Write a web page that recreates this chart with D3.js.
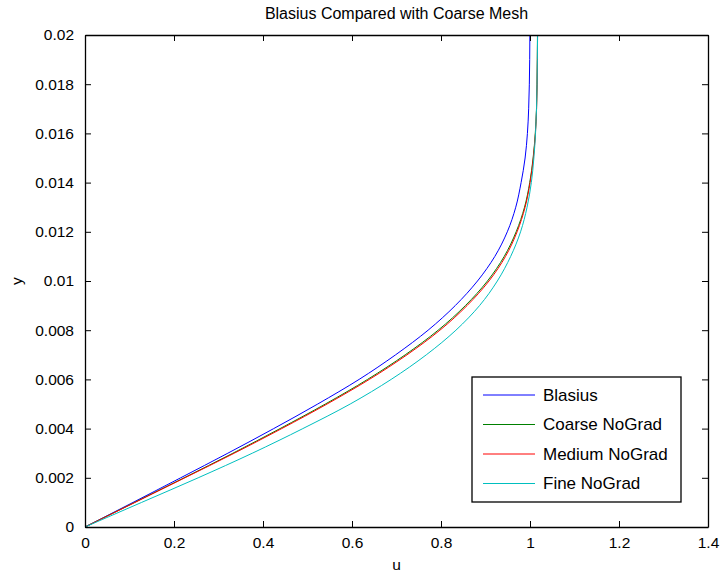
<!DOCTYPE html>
<html>
<head>
<meta charset="utf-8">
<script src="https://cdn.jsdelivr.net/npm/d3@7"></script>
<style>
  body { margin: 0; background: #fff; }
  text { font-family: "Liberation Sans", Arial, Helvetica, sans-serif; fill: #000; }
</style>
</head>
<body>
<div id="chart"></div>
<script>
const width = 722,
    height = 573;
const margin = { top: 35, right: 14, bottom: 46, left: 85 };

// wall-normal positions shared by all profiles
const yValues = [0, 0.001, 0.002, 0.003, 0.004, 0.005, 0.006, 0.007, 0.008, 0.009, 0.010,
    0.011, 0.012, 0.013, 0.014, 0.015, 0.016, 0.017, 0.018, 0.019, 0.020];

const blasiusU = [0, 0.108, 0.215, 0.321, 0.424, 0.523, 0.616, 0.698, 0.771, 0.832, 0.882,
    0.921, 0.949, 0.968, 0.980, 0.989, 0.9942, 0.9970, 0.9985, 0.9993, 0.9997];
const coarseU = [0, 0.1115, 0.2226, 0.3324, 0.4383, 0.5402, 0.6350, 0.7196, 0.7936, 0.8548, 0.9044,
    0.9421, 0.9689, 0.9877, 0.9994, 1.0070, 1.0119, 1.0146, 1.0158, 1.0164, 1.0168];
const mediumU = [0, 0.1125, 0.2245, 0.3355, 0.4420, 0.5440, 0.6390, 0.7236, 0.7976, 0.8585, 0.9078,
    0.9450, 0.9710, 0.9890, 1.0002, 1.0075, 1.0122, 1.0148, 1.0160, 1.0166, 1.0170];
const fineU = [0, 0.1273, 0.2543, 0.3760, 0.4895, 0.5960, 0.6880, 0.7670, 0.8335, 0.8866, 0.9266,
    0.9566, 0.9788, 0.9934, 1.0030, 1.0087, 1.0124, 1.0147, 1.0159, 1.0166, 1.0170];

const seriesNames = ["Blasius", "Coarse NoGrad", "Medium NoGrad", "Fine NoGrad"];
const seriesColors = ["#0000ff", "#008000", "#ff0000", "#00bfbf"];
const seriesU = [blasiusU, coarseU, mediumU, fineU];

const xTicks = [0, 0.2, 0.4, 0.6, 0.8, 1, 1.2, 1.4];
const yTicks = [0, 0.002, 0.004, 0.006, 0.008, 0.01, 0.012, 0.014, 0.016, 0.018, 0.02];

const svg = d3.select("#chart")
    .append("svg")
    .attr("width", width)
    .attr("height", height);

const x = d3.scaleLinear().domain([0, 1.4]).range([margin.left, width - margin.right]);
const y = d3.scaleLinear().domain([0, 0.02]).range([height - margin.bottom, margin.top]);

const tickFont = "15.5px",
    titleFont = "16px",
    legendFont = "17px";

// clip so the curves stop at the top of the box
svg.append("clipPath").attr("id", "plotClip")
    .append("rect")
    .attr("x", x(0)).attr("y", y(0.02))
    .attr("width", x(1.4) - x(0)).attr("height", y(0) - y(0.02));

const line = d3.line()
    .x(d => x(d[0]))
    .y(d => y(d[1]))
    .curve(d3.curveMonotoneY);

svg.append("g").attr("clip-path", "url(#plotClip)")
    .selectAll("path")
    .data(seriesU)
    .enter()
    .append("path")
    .attr("d", u => line(u.map((v, i) => [v, yValues[i]])))
    .attr("fill", "none")
    .attr("stroke", (d, i) => seriesColors[i])
    .attr("stroke-width", 1);

// axes, ticks pointing inward like matlab
const tickLen = 6;
const xAxis = svg.append("g")
    .attr("transform", `translate(0,${y(0)})`)
    .call(d3.axisBottom(x).tickValues(xTicks).tickSizeInner(-tickLen).tickSizeOuter(0)
        .tickPadding(10).tickFormat(d3.format("")));
const xAxisTop = svg.append("g")
    .attr("transform", `translate(0,${y(0.02)})`)
    .call(d3.axisTop(x).tickValues(xTicks).tickSizeInner(-tickLen).tickSizeOuter(0).tickFormat(""));
const yAxis = svg.append("g")
    .attr("transform", `translate(${x(0)},0)`)
    .call(d3.axisLeft(y).tickValues(yTicks).tickSizeInner(-tickLen).tickSizeOuter(0)
        .tickPadding(11).tickFormat(d3.format("")));
const yAxisRight = svg.append("g")
    .attr("transform", `translate(${x(1.4)},0)`)
    .call(d3.axisRight(y).tickValues(yTicks).tickSizeInner(-tickLen).tickSizeOuter(0).tickFormat(""));

[xAxis, xAxisTop, yAxis, yAxisRight].forEach(g => {
    g.select(".domain").attr("stroke", "#000").attr("stroke-width", 1.3);
    g.selectAll(".tick line").attr("stroke", "#000").attr("stroke-width", 1);
    g.selectAll(".tick text")
        .style("font-size", tickFont)
        .style("font-family", "'Liberation Sans', Arial, sans-serif")
        .attr("fill", "#000");
});

svg.append("text")
    .attr("x", (x(0) + x(1.4)) / 2)
    .attr("y", 19)
    .attr("text-anchor", "middle")
    .style("font-size", titleFont)
    .text("Blasius Compared with Coarse Mesh");

svg.append("text")
    .attr("x", (x(0) + x(1.4)) / 2)
    .attr("y", 570)
    .attr("text-anchor", "middle")
    .style("font-size", tickFont)
    .text("u");

svg.append("text")
    .attr("transform", `translate(22,${(y(0) + y(0.02)) / 2}) rotate(-90)`)
    .attr("text-anchor", "middle")
    .style("font-size", tickFont)
    .text("y");

// legend
const legend = svg.append("g").attr("transform", "translate(472,377)");
legend.append("rect")
    .attr("width", 209)
    .attr("height", 125)
    .attr("fill", "#fff")
    .attr("stroke", "#000")
    .attr("stroke-width", 1.3);

const rows = legend.selectAll(".row")
    .data(seriesNames)
    .enter()
    .append("g")
    .attr("class", "row")
    .attr("transform", (d, i) => `translate(0,${18 + i * 29.5})`);

rows.append("line")
    .attr("x1", 11).attr("x2", 63)
    .attr("stroke", (d, i) => seriesColors[i])
    .attr("stroke-width", 1);

rows.append("text")
    .attr("x", 71)
    .attr("dy", "0.35em")
    .style("font-size", legendFont)
    .text(d => d);
</script>
</body>
</html>
